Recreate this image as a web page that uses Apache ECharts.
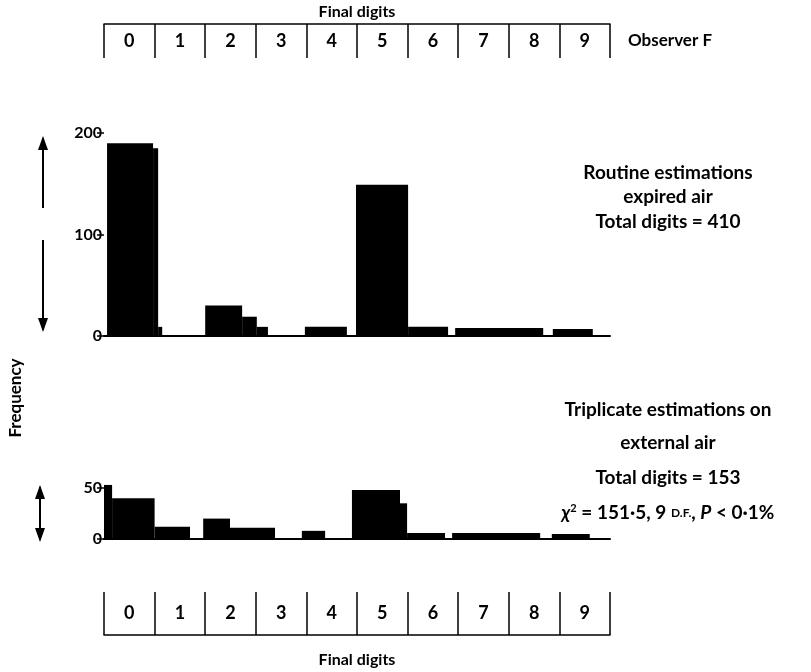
<!DOCTYPE html>
<html lang="en">
<head>
<meta charset="UTF-8">
<title>Final digits - Observer F</title>
<script src="https://cdn.jsdelivr.net/npm/echarts@6/dist/echarts.min.js"></script>
<style>
  html, body { margin: 0; padding: 0; background: #fff; }
  #main { width: 811px; height: 672px; }
</style>
</head>
<body>
<div id="main"></div>
<script>
// digit labels of the two boxes
var digits = ['0', '1', '2', '3', '4', '5', '6', '7', '8', '9'];

// routine estimations, expired air (410 digits): bin edges in digit units, frequency
var routineLeft  = [0.06, 0.97, 1.07, 2.00, 2.73, 3.02, 3.97, 4.98, 6.01, 6.94, 8.87];
var routineRight = [0.97, 1.07, 1.15, 2.73, 3.02, 3.24, 4.80, 6.01, 6.80, 8.68, 9.66];
var routineFreq  = [190, 185, 9, 30, 19, 9, 9, 149, 9, 8, 7];

// triplicate estimations, external air (153 digits)
var tripLeft  = [0.00, 0.16, 1.00, 1.96, 2.49, 3.91, 4.90, 5.85, 5.99, 6.88, 8.85];
var tripRight = [0.16, 1.00, 1.70, 2.49, 3.38, 4.37, 5.85, 5.99, 6.74, 8.62, 9.60];
var tripFreq  = [53, 40, 12, 20, 11, 8, 48, 35, 6, 6, 5];

function bins(left, right, freq) {
  var out = [];
  for (var i = 0; i < freq.length; i++) out.push([left[i], right[i], freq[i]]);
  return out;
}

function renderBin(params, api) {
  var p0 = api.coord([api.value(0), api.value(2)]);
  var p1 = api.coord([api.value(1), 0]);
  return {
    type: 'rect',
    shape: { x: p0[0], y: p0[1], width: p1[0] - p0[0], height: p1[1] - p0[1] },
    style: { fill: '#000' }
  };
}

var FONT = 'Lato';
var labelStyle = { color: '#000', fontFamily: FONT, fontWeight: 'bold', fontSize: 16 };
var digitLabel = { inside: true, interval: 0, color: '#000', fontFamily: FONT, fontWeight: 'bold', fontSize: 18 };
// y axes of the digit strips carry nothing
var blankY = {
  type: 'value', show: false, min: 0, max: 1,
  axisLine: { show: false }, axisTick: { show: false }, axisLabel: { show: false },
  splitLine: { show: false }
};

function arrow(x, y1, y2, headTop, headBottom) {
  var els = [{
    type: 'line',
    shape: { x1: x, y1: y1, x2: x, y2: y2 },
    style: { stroke: '#000', lineWidth: 2 }
  }];
  if (headTop) els.push({ type: 'polygon', shape: { points: [[x, y1 - 2], [x - 5, y1 + 12], [x + 5, y1 + 12]] }, style: { fill: '#000' } });
  if (headBottom) els.push({ type: 'polygon', shape: { points: [[x, y2 + 2], [x - 5, y2 - 12], [x + 5, y2 - 12]] }, style: { fill: '#000' } });
  return { type: 'group', children: els };
}

function textLine(x, y, s) {
  return {
    type: 'text', x: x, y: y,
    style: { text: s, fill: '#000', font: 'bold 19px ' + FONT, align: 'center', verticalAlign: 'middle' }
  };
}

var myChart = echarts.init(document.getElementById('main'));

var option = {
  animation: false,
  backgroundColor: '#fff',
  grid: [
    { left: 104, width: 506, top: 24, height: 34 },
    { left: 104, width: 506, top: 133, height: 203 },
    { left: 104, width: 506, top: 488, height: 51 },
    { left: 104, width: 506, top: 592, height: 43 }
  ],
  xAxis: [{
    gridIndex: 0, type: 'category', position: 'top', data: digits,
    name: 'Final digits', nameLocation: 'middle', nameGap: 4,
    nameTextStyle: labelStyle,
    axisLine: { onZero: false, lineStyle: { color: '#000', width: 1.5 } },
    axisTick: { show: true, inside: true, length: 34, interval: 0, alignWithLabel: false, lineStyle: { color: '#000', width: 1.5 } },
    axisLabel: Object.assign({ margin: 8 }, digitLabel),
    splitLine: { show: false }
  }, {
    gridIndex: 1, type: 'value', min: 0, max: 10,
    axisLine: { onZero: false, lineStyle: { color: '#000', width: 2 } },
    axisTick: { show: false }, axisLabel: { show: false }, splitLine: { show: false }
  }, {
    gridIndex: 2, type: 'value', min: 0, max: 10,
    axisLine: { onZero: false, lineStyle: { color: '#000', width: 2 } },
    axisTick: { show: false }, axisLabel: { show: false }, splitLine: { show: false }
  }, {
    gridIndex: 3, type: 'category', position: 'bottom', data: digits,
    name: 'Final digits', nameLocation: 'middle', nameGap: 17,
    nameTextStyle: labelStyle,
    axisLine: { onZero: false, lineStyle: { color: '#000', width: 1.5 } },
    axisTick: { show: true, inside: true, length: 43, interval: 0, alignWithLabel: false, lineStyle: { color: '#000', width: 1.5 } },
    axisLabel: Object.assign({ margin: 13 }, digitLabel),
    splitLine: { show: false }
  }],
  yAxis: [Object.assign({ gridIndex: 0 }, blankY), {
    gridIndex: 1, type: 'value', min: 0, max: 200, interval: 100,
    axisLine: { show: false },
    axisTick: { show: true, length: 7, lineStyle: { color: '#000', width: 1.5 } },
    axisLabel: { margin: 2, color: '#000', fontFamily: FONT, fontWeight: 'bold', fontSize: 16 },
    splitLine: { show: false }
  }, {
    gridIndex: 2, type: 'value', min: 0, max: 50, interval: 50,
    axisLine: { show: false },
    axisTick: { show: true, length: 7, lineStyle: { color: '#000', width: 1.5 } },
    axisLabel: { margin: 2, color: '#000', fontFamily: FONT, fontWeight: 'bold', fontSize: 16 },
    splitLine: { show: false }
  }, Object.assign({ gridIndex: 3 }, blankY)],
  series: [{
    name: 'Routine estimations', type: 'custom', xAxisIndex: 1, yAxisIndex: 1,
    renderItem: renderBin, encode: { x: [0, 1], y: 2 },
    data: bins(routineLeft, routineRight, routineFreq)
  }, {
    name: 'Triplicate estimations', type: 'custom', xAxisIndex: 2, yAxisIndex: 2,
    renderItem: renderBin, encode: { x: [0, 1], y: 2 },
    data: bins(tripLeft, tripRight, tripFreq)
  }],
  graphic: [
    { type: 'text', x: 628, y: 41, style: { text: 'Observer F', fill: '#000', font: 'bold 17px ' + FONT, verticalAlign: 'middle' } },
    arrow(43, 138, 208, true, false),
    arrow(43, 240, 330, false, true),
    arrow(40, 487, 540, true, true),
    {
      type: 'text', x: 16, y: 398, rotation: Math.PI / 2,
      style: { text: 'Frequency', fill: '#000', font: 'bold 17px ' + FONT, align: 'center', verticalAlign: 'middle' }
    },
    textLine(668, 173, 'Routine estimations'),
    textLine(668, 197, 'expired air'),
    textLine(668, 222, 'Total digits = 410'),
    textLine(668, 410, 'Triplicate estimations on'),
    textLine(668, 443, 'external air'),
    textLine(668, 478, 'Total digits = 153'),
    {
      type: 'text', x: 668, y: 513,
      style: {
        text: '{i|χ}{s|2} = 151·5, 9 {c|D.F.}, {i|P} < 0·1%',
        fill: '#000', font: 'bold 19px ' + FONT, align: 'center', verticalAlign: 'middle',
        rich: {
          i: { fontStyle: 'italic', fontWeight: 'bold', fontSize: 19, fontFamily: FONT },
          s: { fontSize: 11, fontWeight: 'bold', fontFamily: FONT, verticalAlign: 'top', padding: [0, 0, 9, 0] },
          c: { fontSize: 12, fontWeight: 'bold', fontFamily: FONT }
        }
      }
    }
  ]
};
myChart.setOption(option);
</script>
</body>
</html>
